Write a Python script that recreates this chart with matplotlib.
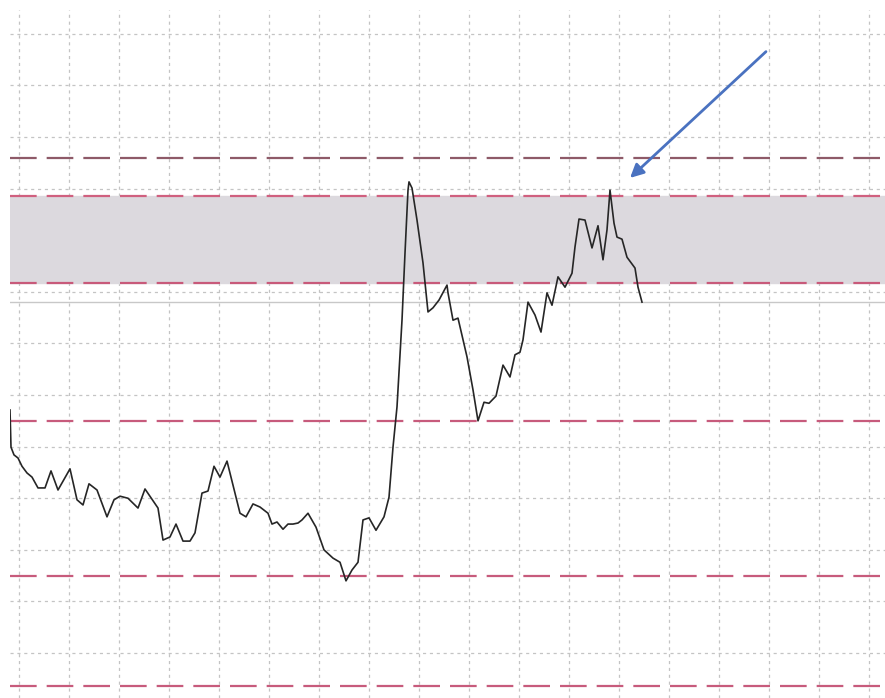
import numpy as np
import matplotlib
matplotlib.use("Agg")
import matplotlib.pyplot as plt

# price trace (time in days, price in arbitrary units)
t = [-1.8, -1.6, -1.0, -0.2, 0.6, 1.6, 2.6, 3.8, 5.2, 6.4, 7.8, 10.2, 11.6, 12.8, 14.0, 15.6,
     17.6, 19.0, 20.2, 21.8, 23.8, 25.2, 27.8, 28.8, 30.2, 31.4, 32.8, 34.2, 35.2, 36.6, 37.8,
     39.0, 40.2, 41.6, 44.2, 45.4, 46.8, 48.2, 49.8, 50.6, 51.6, 52.8, 53.8, 54.8, 55.8, 56.6,
     57.8, 59.4, 61.0, 62.8, 64.2, 65.4, 66.6, 67.8, 68.8, 70.0, 71.4, 73.0, 74.0, 74.8, 75.6,
     76.6, 77.2, 77.8, 78.0, 78.6, 79.6, 80.8, 81.8, 82.8, 84.0, 85.6, 85.8, 86.8, 87.8, 89.6,
     90.8, 91.8, 93.0, 94.0, 95.4, 96.8, 98.2, 99.2, 100.2, 100.8, 101.8, 103.2, 104.4, 105.6,
     106.6, 107.8, 109.2, 110.6, 111.2, 112.0, 113.2, 114.6, 115.8, 116.8, 117.6, 118.2, 119.0,
     119.6, 120.6, 121.6, 123.2, 123.8, 124.6]
price = [147.1, 139.9, 138.4, 137.8, 136.2, 134.9, 134.1, 132.0, 132.0, 135.3, 131.6, 135.7,
         129.7, 128.7, 132.8, 131.6, 126.4, 129.7, 130.4, 130.0, 128.1, 131.8, 128.1, 121.9,
         122.5, 125.0, 121.7, 121.7, 123.3, 131.0, 131.4, 136.2, 134.1, 137.2, 127.1, 126.4,
         128.9, 128.3, 127.1, 125.0, 125.4, 124.0, 125.0, 125.0, 125.2, 125.8, 127.1, 124.4,
         120.0, 118.4, 117.6, 114.0, 116.1, 117.6, 125.8, 126.2, 123.8, 126.4, 130.2, 139.9,
         147.7, 164.5, 177.5, 189.7, 191.3, 190.1, 183.9, 175.6, 166.1, 166.9, 168.4, 171.3,
         169.8, 164.5, 164.9, 157.4, 151.0, 145.0, 148.6, 148.4, 149.8, 155.8, 153.5, 157.8,
         158.3, 160.7, 168.0, 165.5, 162.2, 169.8, 167.4, 172.9, 170.9, 173.6, 178.7, 184.1,
         183.9, 178.5, 182.8, 176.2, 182.0, 189.7, 183.3, 180.6, 180.2, 176.7, 174.6, 170.9,
         168.0]

levels = [195.9, 188.6, 171.7, 145.0, 114.9, 93.6]
level_colors = ["#8e5a68", "#d0607f", "#c85a7a", "#c75b7c", "#c75b7c", "#c75b7c"]
zone = (171.7, 188.6)
last_price = 168.0
arrow_from = (149.8, 216.9)
arrow_to = (121.8, 191.7)

fig = plt.figure(figsize=(8.85, 6.98), dpi=100)
ax = fig.add_axes([10 / 885, 0, 875 / 885, 688 / 698])
ax.set_xlim(-1.8, 173.2)
ax.set_ylim(91.3, 224.6)

for s in ax.spines.values():
    s.set_visible(False)
ax.set_xticks(np.arange(0, 171, 10))
ax.set_yticks(np.arange(100, 221, 10))
ax.tick_params(length=0, labelbottom=False, labelleft=False)
ax.grid(True, color="#c4c4c4", linestyle=(0, (2.5, 3)), linewidth=0.9)
ax.set_axisbelow(True)

ax.axhspan(zone[0], zone[1], color="#dcd9de", zorder=1)
for lv, c in zip(levels, level_colors):
    ax.axhline(lv, color=c, linewidth=1.6, dashes=(12, 4.5), zorder=2)
ax.axhline(last_price, color="#c8c8c8", linewidth=1.0, zorder=2)

ax.plot(t, price, color="#262626", linewidth=1.2, zorder=3)

ax.annotate("", xy=arrow_to, xytext=arrow_from,
            arrowprops=dict(arrowstyle="-|>", color="#4a72c0", lw=2,
                            mutation_scale=20), zorder=4)

fig.savefig("out.png", dpi=100)
